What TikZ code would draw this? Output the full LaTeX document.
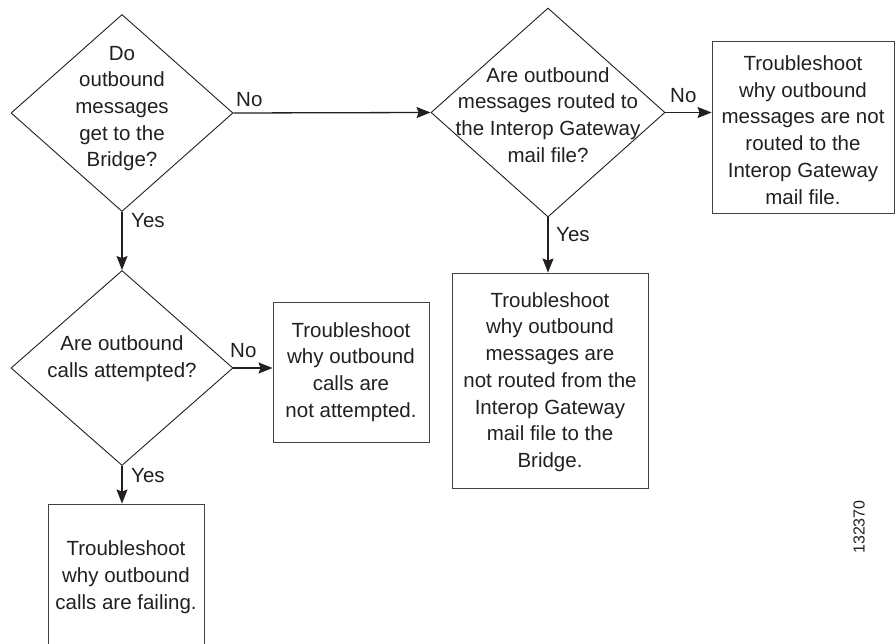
\documentclass[tikz,border=0pt]{standalone}
\usepackage{fontspec}
\setmainfont{Liberation Sans}
\usetikzlibrary{shapes.geometric,arrows.meta}
\definecolor{ink}{HTML}{231F20}
\begin{document}
\begin{tikzpicture}[x=1pt,y=-1pt,
  every node/.style={text=ink},
  txt/.style={font=\fontsize{20.5}{26.7}\selectfont, align=center, inner sep=0pt},
  lbl/.style={font=\fontsize{20.5}{24}\selectfont, inner sep=0pt},
  dia/.style={shape=diamond, draw=ink, line width=0.9pt, inner sep=0pt, minimum width=#1},
  boxnode/.style={draw=ink!85, line width=0.9pt, inner sep=0pt, minimum width=#1},
  arr/.style={draw=ink, line width=1.3pt, -{Stealth[length=14pt,width=11pt,inset=2pt]}}
]
\useasboundingbox (0,0) rectangle (896,644);
\clip (0,0) rectangle (896,644);
% decisions
\node[dia=222pt, minimum height=197pt] (d1) at (122,113) {};
\node[txt] (t1) at (122,108.5) {Do\\outbound\\messages\\get to the\\Bridge?};
\node[dia=222pt, minimum height=195pt] (d2) at (122,368) {};
\node[txt] (t2) at (122,359) {Are outbound\\calls attempted?};
\node[dia=234pt, minimum height=209pt] (d3) at (548,112.5) {};
\node[txt] (t3) at (548,115) {Are outbound\\messages routed to\\the Interop Gateway\\mail file?};
% boxes
\node[boxnode=182pt, minimum height=172pt] (b1) at (803,127) {};
\node[txt] (s1) at (803,130) {Troubleshoot\\why outbound\\messages are not\\routed to the\\Interop Gateway\\mail file.};
\node[boxnode=156pt, minimum height=140pt] (b2) at (351,372) {};
\node[txt] (s2) at (351,372) {Troubleshoot\\why outbound\\calls are\\not attempted.};
\node[boxnode=196pt, minimum height=215pt] (b3) at (550,380.5) {};
\node[txt] (s3) at (550,382) {Troubleshoot\\why outbound\\messages are\\not routed from the\\Interop Gateway\\mail file to the\\Bridge.};
\node[boxnode=156pt, minimum height=150pt] (b4) at (126,579) {};
\node[txt] (s4) at (126,577) {Troubleshoot\\why outbound\\calls are failing.};
% connectors
\draw[arr] (d1.east) -- (d3.west);
\draw[arr] (d1.south) -- (d2.north);
\draw[arr] (d2.east) -- (b2.west |- d2.east);
\draw[arr] (d2.south) -- (d2.south |- b4.north);
\draw[arr] (d3.east) -- (b1.west |- d3.east);
\draw[arr] (d3.south) -- (d3.south |- b3.north);
% labels
\node[lbl, anchor=base west] (n1) at (236,107) {No};
\node[lbl, anchor=base west] (y1) at (131,228) {Yes};
\node[lbl, anchor=base west] (n2) at (230,357) {No};
\node[lbl, anchor=base west] (y2) at (131,482) {Yes};
\node[lbl, anchor=base west] (n3) at (670,103) {No};
\node[lbl, anchor=base west] (y3) at (556,241) {Yes};
\node[font=\fontsize{16}{18}\selectfont, rotate=90, inner sep=0pt] (fig) at (859,527) {132370};
\end{tikzpicture}
\end{document}
